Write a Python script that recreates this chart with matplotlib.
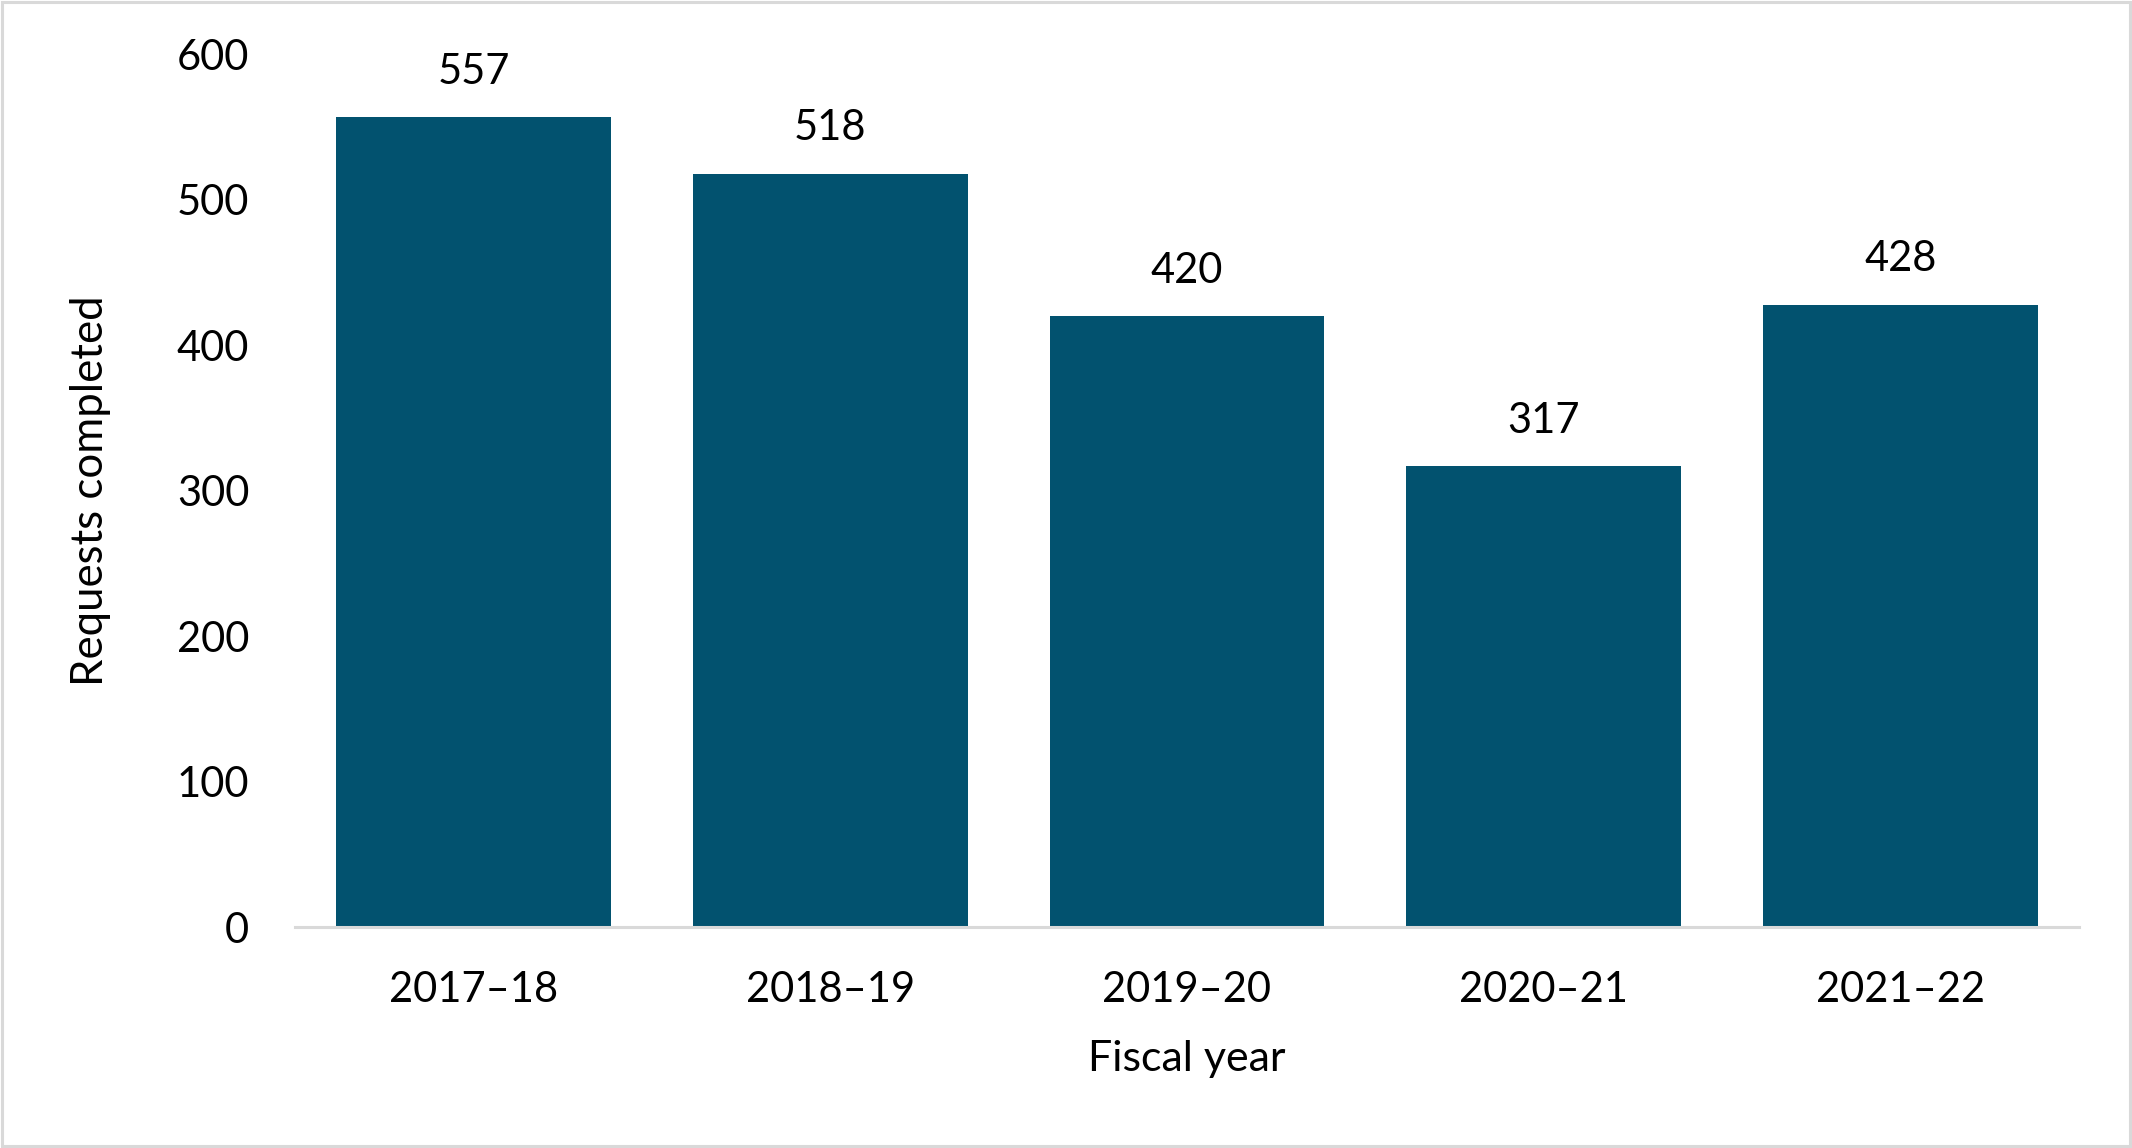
import matplotlib.pyplot as plt
from matplotlib.patches import Rectangle

years = ['2017–18', '2018–19', '2019–20', '2020–21', '2021–22']
requests = [557, 518, 420, 317, 428]
y_ticks = [0, 100, 200, 300, 400, 500, 600]

plt.rcParams['font.family'] = ['Lato', 'DejaVu Sans']

fig = plt.figure(figsize=(21.32, 11.48), dpi=100)
ax = fig.add_axes([0.1384, 0.1925, 0.8367, 0.7601])

x = range(len(years))
bars = ax.bar(x, requests, width=0.77, color='#02526F')

# value labels above each bar
for xi, val in zip(x, requests):
    ax.annotate(str(val), (xi, val), xytext=(0, 24), textcoords='offset points',
                ha='center', va='baseline', fontsize=30, color='black')

ax.set_xlim(-0.5, len(years) - 0.5)
ax.set_ylim(0, 600)
ax.set_yticks(y_ticks)
ax.set_xticks(list(x))
ax.set_xticklabels(years)
ax.tick_params(axis='both', length=0, labelsize=30, colors='black')
ax.tick_params(axis='y', pad=33)
ax.tick_params(axis='x', pad=32)

for side in ['top', 'right', 'left']:
    ax.spines[side].set_visible(False)
ax.spines['bottom'].set_color('#D9D9D9')
ax.spines['bottom'].set_linewidth(2.2)

ax.set_xlabel('Fiscal year', fontsize=31, labelpad=22)
ax.set_ylabel('Requests completed', fontsize=31.5, labelpad=47)

# thin grey frame around the whole chart
fig.patches.append(Rectangle((0.001, 0.0015), 0.998, 0.997, transform=fig.transFigure,
                             fill=False, edgecolor='#D9D9D9', linewidth=2.2))

fig.savefig('out.png', dpi=100)
